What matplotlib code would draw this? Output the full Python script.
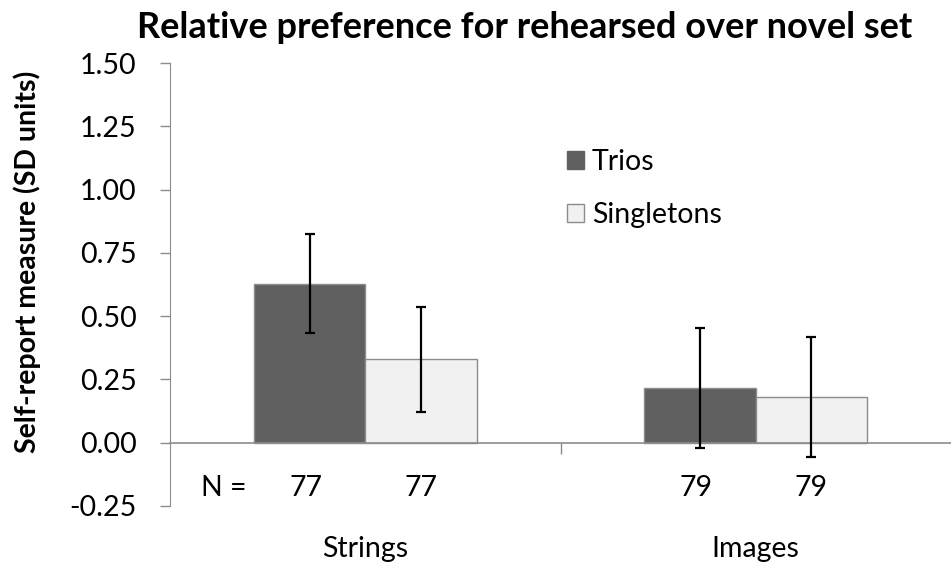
import matplotlib
matplotlib.use("Agg")
import matplotlib.pyplot as plt
import numpy as np
from matplotlib.patches import Patch

categories = ["Strings", "Images"]
series = ["Trios", "Singletons"]
trios = [0.628, 0.218]
singletons = [0.329, 0.180]
trios_err = [0.196, 0.237]
singletons_err = [0.208, 0.236]
n_trios = [77, 79]
n_singletons = [77, 79]
yticks = [-0.25, 0.00, 0.25, 0.50, 0.75, 1.00, 1.25, 1.50]

plt.rcParams['font.family'] = ['Lato', 'DejaVu Sans']
FS = 20.5

fig = plt.figure(figsize=(9.51, 5.67), dpi=100)
ax = fig.add_axes([170/951, 1-506/567, 781/951, 443/567])

x = np.arange(len(categories))
w = 0.285
grey = '#8c8c8c'
ax.bar(x - w/2, trios, w, color='#606060', edgecolor=grey, linewidth=1, zorder=2)
ax.bar(x + w/2, singletons, w, color='#f1f1f1', edgecolor=grey, linewidth=1, zorder=2)
ax.errorbar(x - w/2, trios, yerr=trios_err, fmt='none', ecolor='black',
            elinewidth=1.6, capsize=3.8, capthick=1.6, zorder=3)
ax.errorbar(x + w/2, singletons, yerr=singletons_err, fmt='none', ecolor='black',
            elinewidth=1.6, capsize=3.8, capthick=1.6, zorder=3)

ax.set_xlim(-0.5, 1.5)
ax.set_ylim(-0.25, 1.5)
ax.set_yticks(yticks)
ax.set_yticklabels([f"{v:.2f}" for v in yticks], fontsize=FS)
ax.tick_params(axis='y', direction='out', length=7, width=1, color=grey, pad=17)

for s in ['top', 'right']:
    ax.spines[s].set_visible(False)
ax.spines['left'].set_color(grey)
ax.spines['bottom'].set_color(grey)
ax.spines['bottom'].set_position(('data', 0))
ax.spines['bottom'].set_linewidth(1.2)

ax.set_xticks(x)
ax.set_xticklabels(categories, fontsize=FS)
ax.tick_params(axis='x', which='major', length=0, pad=67)
ax.set_xticks([0.5], minor=True)
ax.tick_params(axis='x', which='minor', direction='out', length=8, width=1, color=grey)

# N labels
ax.text(-0.362, -0.18, "N =", ha='center', va='center', fontsize=FS)
for i in range(len(categories)):
    ax.text(x[i] - w/2 - 0.01, -0.18, str(n_trios[i]), ha='center', va='center', fontsize=FS)
    ax.text(x[i] + w/2, -0.18, str(n_singletons[i]), ha='center', va='center', fontsize=FS)

ax.set_ylabel("Self-report measure (SD units)", fontsize=FS, fontweight='bold')
ax.yaxis.set_label_coords(-0.165, 0.551)

fig.text(525/951, 1-28/567, "Relative preference for rehearsed over novel set",
         ha='center', va='center', fontsize=26, fontweight='bold')

handles = [Patch(facecolor='#606060', edgecolor='#606060', label='Trios'),
           Patch(facecolor='#f1f1f1', edgecolor=grey, label='Singletons')]
leg = ax.legend(handles=handles, loc='upper left', bbox_to_anchor=(0.508, 0.806),
                frameon=False, fontsize=FS, labelspacing=0.95, handlelength=0.6,
                handleheight=0.6, handletextpad=0.28, borderaxespad=0, borderpad=0)

fig.savefig("out.png", dpi=100)
